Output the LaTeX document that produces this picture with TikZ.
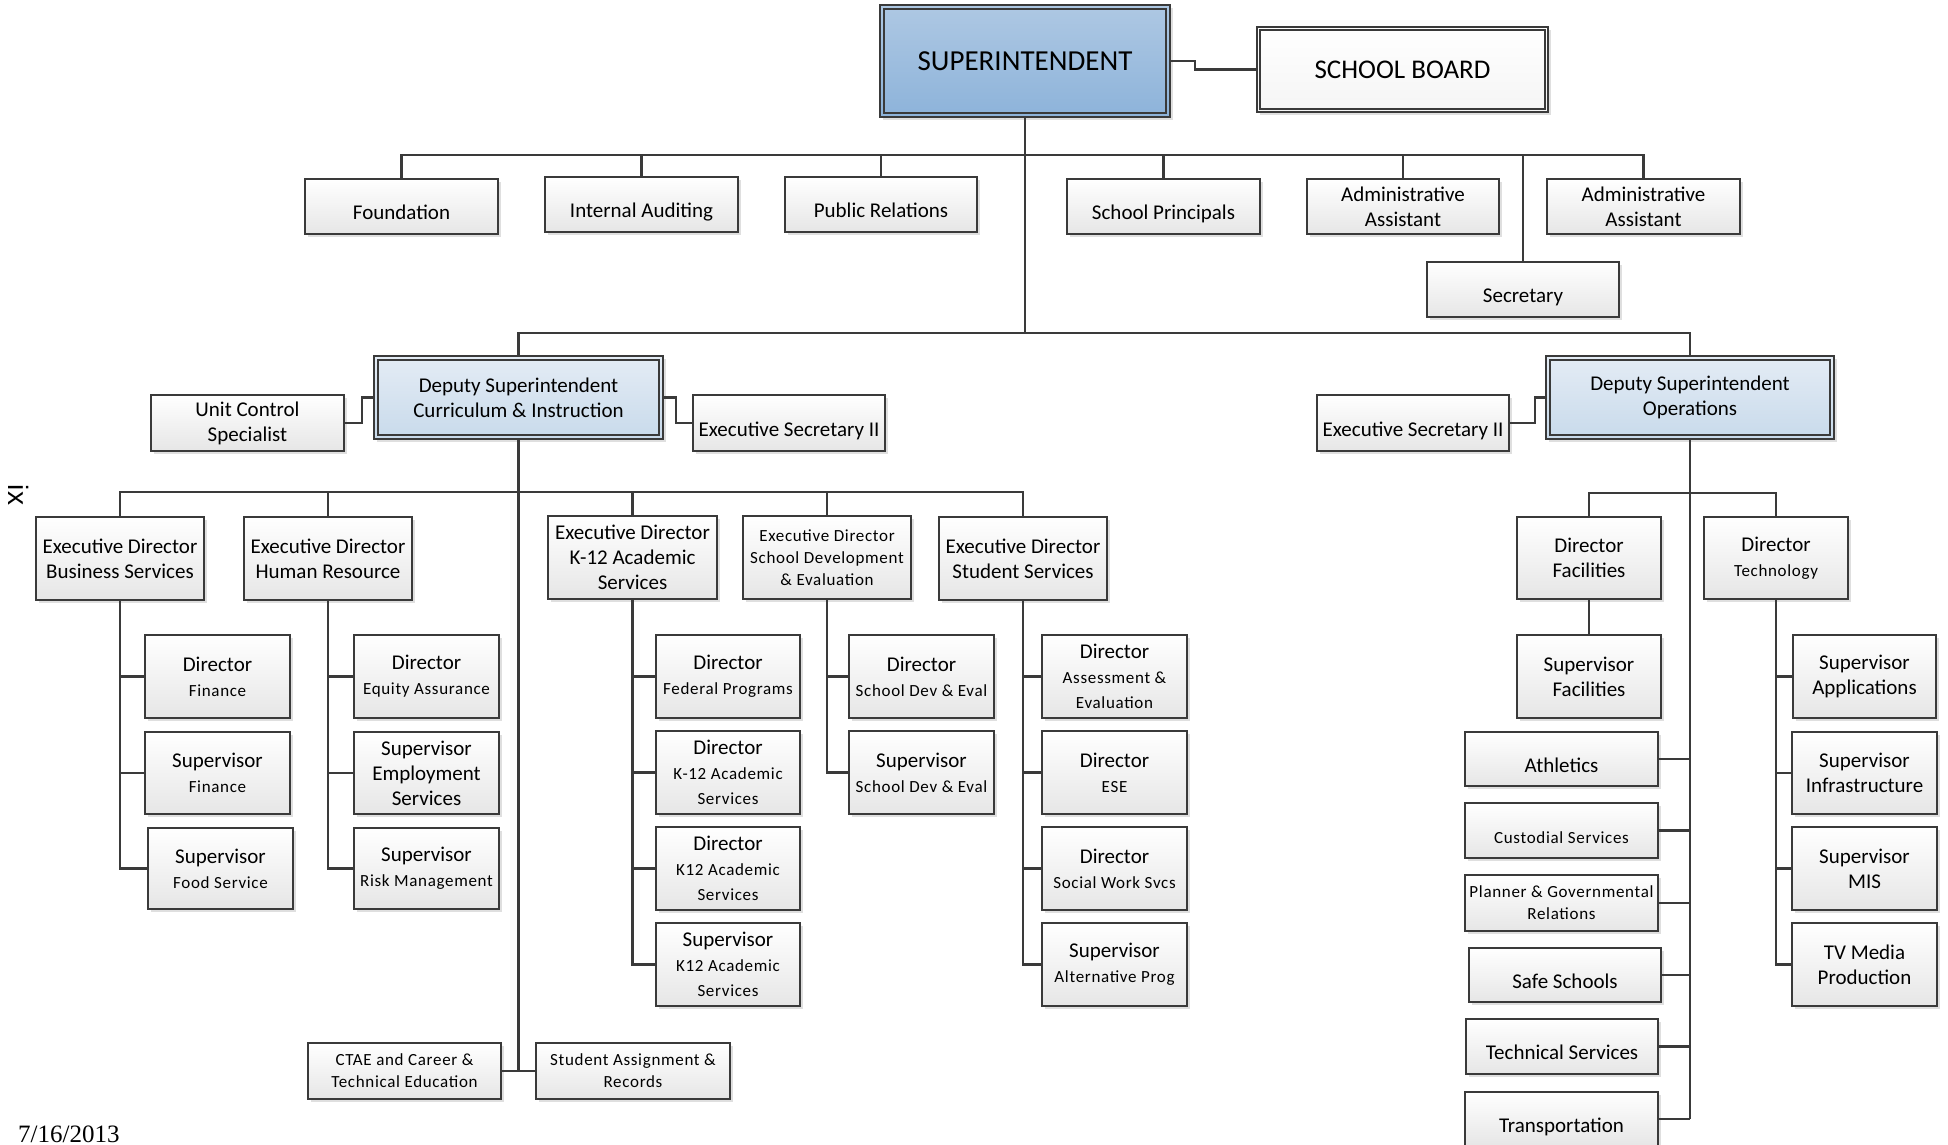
\documentclass[tikz,border=0pt]{standalone}
\usepackage{fontspec}
\setmainfont{Carlito}
\newfontfamily\spcfont[LetterSpace=4]{Carlito}
\newfontfamily\datefont{Liberation Serif}
\newfontfamily\pgnumfont{Liberation Sans}
\usetikzlibrary{shadows}
\definecolor{bord}{HTML}{3A3A3A}
\definecolor{linec}{HTML}{3A3A3A}
\definecolor{boxbot}{HTML}{E6E6E6}
\definecolor{supt}{HTML}{AEC8E3}
\definecolor{supb}{HTML}{8DB3DA}
\definecolor{dept}{HTML}{E4ECF5}
\definecolor{depb}{HTML}{C8DAEB}
\newcommand\fbig{\fontsize{21}{25}\selectfont}
\newcommand\fsm{\spcfont\fontsize{17}{22}\selectfont}
\newcommand\BX[7][]{\node[box,#1,minimum width={#5-#3},minimum height={#6-#4}] (#2) at ({(#3+#5)/2},{(#4+#6)/2}) {#7};}
\tikzset{
  box/.style={draw=bord, line width=1.6, top color=white, bottom color=boxbot,
    align=center, inner sep=0pt, font=\fbig,
    drop shadow={opacity=0.25, shadow xshift=3pt, shadow yshift=-3pt}},
  bluebox/.style={top color=supt, bottom color=supb},
  depbox/.style={top color=dept, bottom color=depb},
  sl/.style={text height=26pt, text depth=0pt},
  conn/.style={draw=linec, line width=2.6},
  inner/.style={draw=bord, line width=1.6}
}
\begin{document}
\begin{tikzpicture}[x=1pt,y=-1pt]
\fill[white] (0,0) rectangle (1948,1145);
\useasboundingbox (0,0) rectangle (1948,1145);
\clip (0,0) rectangle (1948,1145);

% top level
\BX[bluebox, font=\fontsize{29}{34}\selectfont]{super}{880}{5}{1170}{117}{SUPERINTENDENT}
\BX[top color=white, bottom color=gray!8, font=\fontsize{27}{32}\selectfont]{sb}{1257}{27}{1548}{112}{SCHOOL BOARD}
\draw[inner] ([shift={(5,5)}]super.north west) rectangle ([shift={(-5,-5)}]super.south east);
\draw[inner] ([shift={(4,4)}]sb.north west) rectangle ([shift={(-4,-4)}]sb.south east);

\BX[sl]{found}{305}{179}{498}{234}{Foundation}
\BX[sl]{ia}{545}{177}{738}{232}{Internal Auditing}
\BX[sl]{pr}{785}{177}{977}{232}{Public Relations}
\BX[sl]{sp}{1067}{179}{1260}{234}{School Principals}
\BX{aa1}{1307}{179}{1499}{234}{Administrative\\Assistant}
\BX{aa2}{1547}{179}{1740}{234}{Administrative\\Assistant}
\BX[sl]{sec}{1427}{262}{1619}{317}{Secretary}

% deputies
\BX[depbox]{dci}{374}{356}{663}{439}{Deputy Superintendent\\Curriculum \& Instruction}
\BX[depbox]{dops}{1546}{356}{1834}{439}{Deputy Superintendent\\Operations}
\draw[inner] ([shift={(5,5)}]dci.north west) rectangle ([shift={(-5,-5)}]dci.south east);
\draw[inner] ([shift={(5,5)}]dops.north west) rectangle ([shift={(-5,-5)}]dops.south east);
\BX{ucs}{151}{395}{344}{451}{Unit Control\\Specialist}
\BX[sl]{esci}{693}{395}{885}{451}{Executive Secretary II}
\BX[sl]{esops}{1317}{395}{1509}{451}{Executive Secretary II}

% executive directors
\BX{edbs}{36}{517}{204}{600}{Executive Director\\Business Services}
\BX{edhr}{244}{517}{412}{600}{Executive Director\\Human Resource}
\BX{edk}{548}{516}{717}{599}{Executive Director\\K-12 Academic\\Services}
\BX[font=\fsm]{edsd}{743}{516}{911}{599}{Executive Director\\School Development\\\& Evaluation}
\BX{edss}{939}{517}{1107}{600}{Executive Director\\Student Services}

% business
\BX{dfin}{145}{635}{290}{718}{Director\\{\fsm Finance}}
\BX{sfin}{145}{732}{290}{814}{Supervisor\\{\fsm Finance}}
\BX{sfood}{148}{828}{293}{909}{Supervisor\\{\fsm Food Service}}
% HR
\BX{deq}{354}{635}{499}{718}{Director\\{\fsm Equity Assurance}}
\BX{semp}{354}{732}{499}{814}{Supervisor\\Employment\\Services}
\BX{srisk}{354}{828}{499}{909}{Supervisor\\{\fsm Risk Management}}
% K-12
\BX{dfed}{656}{635}{800}{718}{Director\\{\fsm Federal Programs}}
\BX{dka}{656}{731}{800}{814}{Director\\{\fsm K-12 Academic}\\{\fsm Services}}
\BX{dkb}{656}{827}{800}{910}{Director\\{\fsm K12 Academic}\\{\fsm Services}}
\BX{skc}{656}{923}{800}{1006}{Supervisor\\{\fsm K12 Academic}\\{\fsm Services}}
% SD&E
\BX{dsd}{849}{635}{994}{718}{Director\\{\fsm School Dev \& Eval}}
\BX{ssd}{849}{731}{994}{814}{Supervisor\\{\fsm School Dev \& Eval}}
% student services
\BX{dass}{1042}{635}{1187}{718}{Director\\{\fsm Assessment \&}\\{\fsm Evaluation}}
\BX{dese}{1042}{731}{1187}{814}{Director\\{\fsm ESE}}
\BX{dsw}{1042}{827}{1187}{910}{Director\\{\fsm Social Work Svcs}}
\BX{salt}{1042}{923}{1187}{1006}{Supervisor\\{\fsm Alternative Prog}}
% bottom
\BX[font=\fsm]{ctae}{308}{1043}{501}{1099}{CTAE and Career \&\\Technical Education}
\BX[font=\fsm]{sar}{536}{1043}{730}{1099}{Student Assignment \&\\Records}

% operations
\BX{dfac}{1517}{517}{1661}{599}{Director\\Facilities}
\BX{dtech}{1704}{517}{1848}{599}{Director\\{\fsm Technology}}
\BX{sfac}{1517}{635}{1661}{718}{Supervisor\\Facilities}
\BX{sapp}{1793}{635}{1936}{718}{Supervisor\\Applications}
\BX{sinf}{1792}{732}{1937}{814}{Supervisor\\Infrastructure}
\BX{smis}{1792}{827}{1937}{910}{Supervisor\\MIS}
\BX{stv}{1792}{923}{1937}{1006}{TV Media\\Production}
\BX[sl]{ath}{1465}{732}{1658}{786}{Athletics}
\BX[sl,font=\fsm]{cust}{1465}{803}{1658}{858}{Custodial Services}
\BX[font=\fsm]{plan}{1465}{875}{1658}{931}{Planner \& Governmental\\Relations}
\BX[sl]{safe}{1469}{948}{1661}{1002}{Safe Schools}
\BX[sl]{tech}{1466}{1019}{1658}{1074}{Technical Services}
\BX[sl]{trans}{1465}{1092}{1658}{1146}{Transportation}

% connectors: top
\coordinate (tb) at (1025,155);
\coordinate (db) at (1025,333);
\draw[conn] (super.east) -- ++(24,0) |- (sb.west);
\draw[conn] (super.south) -- (db);
\draw[conn] (found.north) -- (found.north |- tb) -- (aa2.north |- tb) -- (aa2.north);
\foreach \n in {ia,pr,sp,aa1,sec} \draw[conn] (\n.north) -- (\n.north |- tb);
\draw[conn] (dci.north) -- (dci.north |- db) -- (dops.north |- db) -- (dops.north);
\draw[conn] (ucs.east) -- ++(17,0) |- (dci.west);
\draw[conn] (dci.east) -- ++(12,0) |- (esci.west);
\draw[conn] (esops.east) -- ++(25,0) |- (dops.west);

% curriculum & instruction
\coordinate (cb) at (519,492);
\draw[conn] (dci.south) -- (dci.south |- ctae.east);
\draw[conn] (ctae.east) -- (sar.west);
\draw[conn] (edbs.north) -- (edbs.north |- cb) -- (edss.north |- cb) -- (edss.north);
\foreach \n in {edhr,edk,edsd} \draw[conn] (\n.north) -- (\n.north |- cb);
\foreach \n in {dfin,sfin,sfood} \draw[conn] (edbs.south) |- (\n.west);
\foreach \n in {deq,semp,srisk} \draw[conn] (edhr.south) |- (\n.west);
\foreach \n in {dfed,dka,dkb,skc} \draw[conn] (edk.south) |- (\n.west);
\foreach \n in {dsd,ssd} \draw[conn] (edsd.south) |- (\n.west);
\foreach \n in {dass,dese,dsw,salt} \draw[conn] (edss.south) |- (\n.west);

% operations
\coordinate (ob) at (1690,493);
\draw[conn] (dops.south) -- (dops.south |- trans.east);
\draw[conn] (dfac.north) -- (dfac.north |- ob) -- (dtech.north |- ob) -- (dtech.north);
\draw[conn] (dfac.south) -- (sfac.north);
\foreach \n in {sapp,sinf,smis,stv} \draw[conn] (dtech.south) |- (\n.west);
\foreach \n in {ath,cust,plan,safe,tech,trans} \draw[conn] (\n.east) -- (\n.east -| dops.south);

% page marks
\node[font=\pgnumfont\fontsize{28}{30}\selectfont, rotate=-90, inner sep=0pt] (pg) at (19,495) {ix};
\node[font=\datefont\fontsize{25}{27}\selectfont, anchor=west, inner sep=0pt] (date) at (18,1134) {7/16/2013};
\end{tikzpicture}
\end{document}
